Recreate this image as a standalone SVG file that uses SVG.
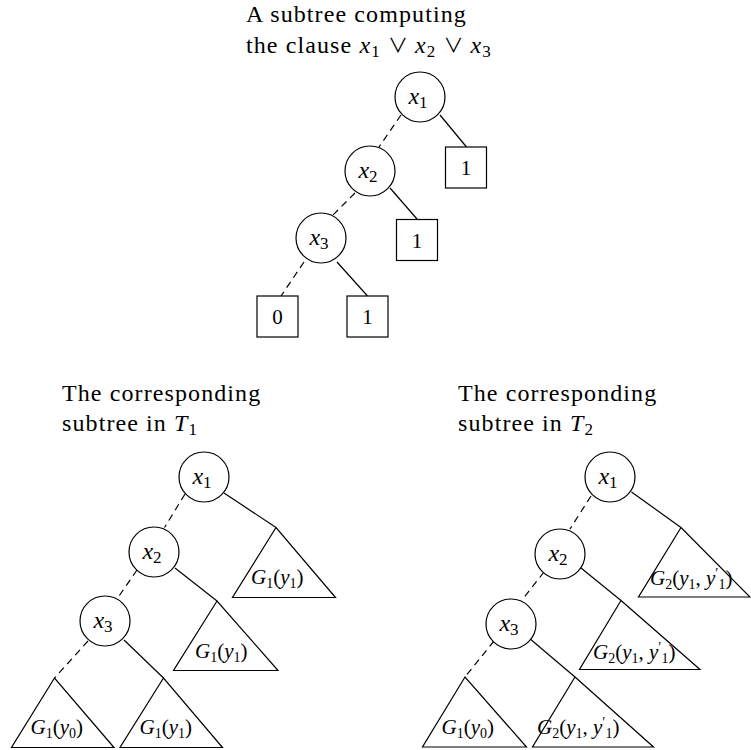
<svg xmlns="http://www.w3.org/2000/svg" width="751" height="750" viewBox="0 0 751 750">
<style>
text { font-family: "Liberation Serif", "DejaVu Serif", serif; fill: #000; }
.ttl { font-size: 24px; letter-spacing: 1.1px; }
.nl { font-size: 24px; }
.bl { font-size: 21px; }
.gl { font-size: 21px; }
.i { font-style: italic; }
.or { font-family: "Noto Sans CJK SC", "DejaVu Sans", sans-serif; font-size: 20px; letter-spacing: 0; }
.node { fill: #fff; stroke: #000; stroke-width: 1.2; }
.e { stroke: #000; stroke-width: 1.2; fill: none; }
.d { stroke-dasharray: 7 5; }
</style>
<rect width="751" height="750" fill="#fff"/>

<!-- Titles -->
<text class="ttl" x="246" y="22">A subtree computing</text>
<text class="ttl" x="246" y="53">the clause <tspan class="i">x</tspan><tspan font-size="17" dy="4">1</tspan><tspan dy="-4"> </tspan><tspan class="or">∨</tspan><tspan> </tspan><tspan class="i">x</tspan><tspan font-size="17" dy="4">2</tspan><tspan dy="-4"> </tspan><tspan class="or">∨</tspan><tspan> </tspan><tspan class="i">x</tspan><tspan font-size="17" dy="4">3</tspan></text>
<text class="ttl" x="62" y="401">The corresponding</text>
<text class="ttl" x="62" y="431">subtree in <tspan class="i">T</tspan><tspan font-size="17" dy="4">1</tspan></text>
<text class="ttl" x="458" y="401">The corresponding</text>
<text class="ttl" x="458" y="431">subtree in <tspan class="i">T</tspan><tspan font-size="17" dy="4">2</tspan></text>

<!-- Connectors -->
<g id="connectors">
  <!-- top tree -->
  <line class="e" x1="440" y1="115" x2="466.5" y2="147"/>
  <line class="e d" x1="401" y1="115" x2="379" y2="147"/>
  <line class="e" x1="390" y1="188" x2="417" y2="219"/>
  <line class="e d" x1="355" y1="193" x2="332" y2="216"/>
  <line class="e d" x1="304" y1="262" x2="281" y2="296"/>
  <line class="e" x1="337" y1="262" x2="367.5" y2="296"/>
  <!-- bottom-left tree -->
  <line class="e" x1="224" y1="493" x2="276" y2="527.5"/>
  <line class="e d" x1="185" y1="494" x2="164.5" y2="527.5"/>
  <line class="e" x1="175" y1="568" x2="217" y2="601"/>
  <line class="e d" x1="137" y1="570" x2="117" y2="599"/>
  <line class="e" x1="124" y1="640" x2="163.5" y2="678"/>
  <line class="e d" x1="88" y1="641" x2="54.5" y2="678"/>
  <!-- bottom-right tree -->
  <line class="e" x1="631.5" y1="492" x2="681" y2="527.5"/>
  <line class="e d" x1="591" y1="496" x2="570" y2="529"/>
  <line class="e" x1="581" y1="568" x2="621" y2="600.5"/>
  <line class="e d" x1="544" y1="572" x2="522" y2="600"/>
  <line class="e" x1="529" y1="638" x2="575" y2="677"/>
  <line class="e d" x1="494" y1="641" x2="465" y2="677"/>
</g>

<!-- Top tree nodes -->
<g id="t0-x1"><circle class="node" cx="420" cy="97" r="25"/><text class="nl" x="418" y="104" text-anchor="middle"><tspan class="i">x</tspan><tspan font-size="17" dy="4">1</tspan></text></g>
<g id="t0-x2"><circle class="node" cx="370" cy="171" r="25"/><text class="nl" x="368" y="178" text-anchor="middle"><tspan class="i">x</tspan><tspan font-size="17" dy="4">2</tspan></text></g>
<g id="t0-x3"><circle class="node" cx="321" cy="238" r="25"/><text class="nl" x="319" y="245" text-anchor="middle"><tspan class="i">x</tspan><tspan font-size="17" dy="4">3</tspan></text></g>
<g id="t0-b1"><rect class="node" x="445.5" y="147" width="41" height="41"/><text class="bl" x="466" y="175" text-anchor="middle">1</text></g>
<g id="t0-b2"><rect class="node" x="396.5" y="219.5" width="41" height="41"/><text class="bl" x="417" y="247.5" text-anchor="middle">1</text></g>
<g id="t0-b0"><rect class="node" x="257" y="296" width="41" height="41"/><text class="bl" x="277.5" y="324" text-anchor="middle">0</text></g>
<g id="t0-b3"><rect class="node" x="347" y="296" width="41" height="41"/><text class="bl" x="367.5" y="324" text-anchor="middle">1</text></g>

<!-- Bottom-left tree -->
<g id="t1-x1"><circle class="node" cx="204" cy="477" r="25"/><text class="nl" x="202" y="484" text-anchor="middle"><tspan class="i">x</tspan><tspan font-size="17" dy="4">1</tspan></text></g>
<g id="t1-x2"><circle class="node" cx="154" cy="552" r="25"/><text class="nl" x="152" y="559" text-anchor="middle"><tspan class="i">x</tspan><tspan font-size="17" dy="4">2</tspan></text></g>
<g id="t1-x3"><circle class="node" cx="105" cy="621" r="25"/><text class="nl" x="103" y="628" text-anchor="middle"><tspan class="i">x</tspan><tspan font-size="17" dy="4">3</tspan></text></g>
<g id="t1-g1"><polygon class="node" points="276,527.5 232.5,597.5 335.5,597.5"/><text class="gl" x="251" y="584"><tspan class="i">G</tspan><tspan font-size="14" dy="4">1</tspan><tspan dy="-4">(</tspan><tspan class="i">y</tspan><tspan font-size="14" dy="4">1</tspan><tspan dy="-4">)</tspan></text></g>
<g id="t1-g2"><polygon class="node" points="217,601 173.5,670.5 278,670.5"/><text class="gl" x="195" y="658"><tspan class="i">G</tspan><tspan font-size="14" dy="4">1</tspan><tspan dy="-4">(</tspan><tspan class="i">y</tspan><tspan font-size="14" dy="4">1</tspan><tspan dy="-4">)</tspan></text></g>
<g id="t1-g3"><polygon class="node" points="54.5,678 11.5,747.5 114,747.5"/><text class="gl" x="30.5" y="734"><tspan class="i">G</tspan><tspan font-size="14" dy="4">1</tspan><tspan dy="-4">(</tspan><tspan class="i">y</tspan><tspan font-size="14" dy="4">0</tspan><tspan dy="-4">)</tspan></text></g>
<g id="t1-g4"><polygon class="node" points="163.5,678 120,747.5 222.5,747.5"/><text class="gl" x="139.5" y="734"><tspan class="i">G</tspan><tspan font-size="14" dy="4">1</tspan><tspan dy="-4">(</tspan><tspan class="i">y</tspan><tspan font-size="14" dy="4">1</tspan><tspan dy="-4">)</tspan></text></g>

<!-- Bottom-right tree -->
<g id="t2-x1"><circle class="node" cx="610" cy="477" r="25"/><text class="nl" x="608" y="484" text-anchor="middle"><tspan class="i">x</tspan><tspan font-size="17" dy="4">1</tspan></text></g>
<g id="t2-x2"><circle class="node" cx="560" cy="554" r="25"/><text class="nl" x="558" y="561" text-anchor="middle"><tspan class="i">x</tspan><tspan font-size="17" dy="4">2</tspan></text></g>
<g id="t2-x3"><circle class="node" cx="511" cy="624" r="25"/><text class="nl" x="509" y="631" text-anchor="middle"><tspan class="i">x</tspan><tspan font-size="17" dy="4">3</tspan></text></g>
<g id="t2-g1"><polygon class="node" points="681,527.5 638.5,597 750,597"/><text class="gl" x="650" y="585"><tspan class="i">G</tspan><tspan font-size="14" dy="4">2</tspan><tspan dy="-4">(</tspan><tspan class="i">y</tspan><tspan font-size="14" dy="4">1</tspan><tspan dy="-4">, </tspan><tspan class="i">y</tspan><tspan font-size="14" dy="-7">′</tspan><tspan font-size="14" dy="11">1</tspan><tspan dy="-4">)</tspan></text></g>
<g id="t2-g2"><polygon class="node" points="621,600.5 579.5,669.5 700,669.5"/><text class="gl" x="593" y="659"><tspan class="i">G</tspan><tspan font-size="14" dy="4">2</tspan><tspan dy="-4">(</tspan><tspan class="i">y</tspan><tspan font-size="14" dy="4">1</tspan><tspan dy="-4">, </tspan><tspan class="i">y</tspan><tspan font-size="14" dy="-7">′</tspan><tspan font-size="14" dy="11">1</tspan><tspan dy="-4">)</tspan></text></g>
<g id="t2-g3"><polygon class="node" points="465,677 422.5,747 526.5,747"/><text class="gl" x="441.5" y="734"><tspan class="i">G</tspan><tspan font-size="14" dy="4">1</tspan><tspan dy="-4">(</tspan><tspan class="i">y</tspan><tspan font-size="14" dy="4">0</tspan><tspan dy="-4">)</tspan></text></g>
<g id="t2-g4"><polygon class="node" points="575,677 532.5,747 653.5,747"/><text class="gl" x="537" y="734"><tspan class="i">G</tspan><tspan font-size="14" dy="4">2</tspan><tspan dy="-4">(</tspan><tspan class="i">y</tspan><tspan font-size="14" dy="4">1</tspan><tspan dy="-4">, </tspan><tspan class="i">y</tspan><tspan font-size="14" dy="-7">′</tspan><tspan font-size="14" dy="11">1</tspan><tspan dy="-4">)</tspan></text></g>
</svg>
